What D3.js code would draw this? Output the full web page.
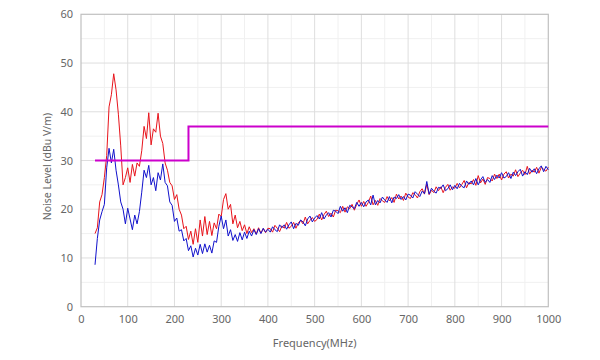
<!DOCTYPE html>
<html><head><meta charset="utf-8">
<script src="https://cdn.jsdelivr.net/npm/d3@7"></script>
<style>body{margin:0;background:#fff}svg{display:block}text{font-family:"Noto Sans",sans-serif}</style>
</head><body>
<svg id="c" width="600" height="360"></svg>
<script>
// Frequencies: 30 MHz to 1000 MHz every 5 MHz
const freqStart = 30, freqStep = 5;
const redLevel = [
15.0,16.2,21.5,23.0,26.5,31.0,41.0,43.5,47.8,44.5,39.5,33.0,25.0,26.5,28.5,25.5,29.2,26.8,29.5,28.8,
32.0,37.0,34.5,39.8,33.2,36.5,35.8,39.7,35.0,33.5,29.5,28.0,25.5,24.8,22.0,23.0,20.0,18.8,16.0,16.5,
13.8,15.5,12.8,16.0,13.2,17.8,14.5,18.5,14.8,17.5,14.6,17.2,16.0,19.0,18.5,22.0,23.2,20.0,21.0,17.0,
18.8,16.2,17.5,15.6,16.8,15.0,16.4,15.2,16.0,14.9,16.2,15.1,16.0,15.2,16.1,
16.0,15.3,16.7,16.1,15.4,16.6,16.1,17.3,16.1,16.5,17.3,16.1,17.2,17.7,17.0,18.4,17.0,17.7,18.3,17.5,
17.9,19.0,17.8,18.9,19.6,18.5,19.2,18.4,19.8,19.7,19.3,20.6,19.4,20.5,20.1,21.0,19.8,21.0,21.9,20.6,
21.6,20.6,21.4,22.7,20.9,21.8,20.8,22.2,21.7,21.4,22.6,21.7,22.4,21.4,23.1,22.1,22.7,21.8,23.3,22.5,
22.2,23.4,23.0,22.3,23.6,24.2,23.1,25.1,23.0,23.9,23.4,24.6,23.8,24.6,23.4,24.5,25.1,23.9,24.6,24.3,
25.3,24.4,25.1,25.9,24.4,25.5,25.2,26.1,24.9,26.9,25.4,26.2,25.1,26.5,26.3,25.8,27.2,26.3,27.2,26.0,
27.2,27.7,26.4,27.2,26.8,28.1,26.7,27.4,28.0,27.1,28.8,27.2,28.0,27.6,28.6,27.4,28.6,28.2,27.8,28.6];
const blueLevel = [
8.6,14.0,17.8,19.5,21.0,28.5,32.5,29.5,32.3,28.0,25.0,21.5,20.0,17.0,20.2,18.0,15.8,18.8,17.0,19.5,
23.5,28.0,26.5,29.0,25.0,26.5,23.8,27.5,26.0,29.3,25.5,24.8,21.5,20.8,17.5,18.2,15.5,15.8,13.5,14.0,
11.5,12.5,10.2,12.0,10.6,12.8,10.9,12.9,11.2,12.6,11.0,13.5,13.2,16.5,18.6,16.0,17.8,14.5,15.8,13.6,
14.8,13.4,15.2,13.7,15.3,14.0,15.5,14.5,15.8,14.8,16.0,15.0,16.1,15.3,15.9,
15.3,16.4,15.8,15.4,16.8,16.2,16.8,15.9,16.8,17.4,16.0,17.1,16.7,17.8,17.4,16.6,18.0,18.6,17.4,18.2,
18.7,18.0,19.3,18.0,18.8,19.3,18.4,19.8,19.6,19.1,20.6,19.6,20.3,19.3,20.8,20.5,20.1,21.4,20.6,21.4,
20.5,21.5,21.9,20.9,22.9,20.9,21.8,21.3,22.5,21.9,21.4,22.6,21.3,22.5,22.2,23.0,22.0,22.6,21.9,23.1,
22.9,22.3,23.6,23.1,22.6,23.7,23.2,25.7,23.1,24.3,23.7,23.3,24.5,24.3,25.0,23.8,24.2,25.0,24.0,24.9,
24.2,25.3,24.7,24.4,25.8,25.1,25.8,25.0,26.3,25.0,26.0,26.7,25.5,26.1,25.5,26.9,26.1,27.0,26.4,27.5,
26.4,26.7,27.5,26.3,27.6,26.9,27.7,28.2,26.8,27.7,27.1,28.4,27.6,28.3,27.3,28.3,28.9,27.7,28.8,28.1];
const limitFreq = [30, 230, 230, 1000];
const limitLevel = [30, 30, 37, 37];
const xTicks = [0,100,200,300,400,500,600,700,800,900,1000];
const yTicks = [0,10,20,30,40,50,60];
const xMinor = [50,150,250,350,450,550,650,750,850,950];
const yMinor = [5,15,25,35,45,55];

const svg = d3.select("#c");
const L = 81, R = 548.3, T = 14.3, B = 306.7;
const x = d3.scaleLinear().domain([0, 1000]).range([L, R]);
const y = d3.scaleLinear().domain([0, 60]).range([B, T]);
const freqs = redLevel.map((_, i) => freqStart + i * freqStep);

const g = svg.append("g");
g.selectAll(".xm").data(xMinor).join("line").attr("x1", d => x(d)).attr("x2", d => x(d)).attr("y1", T).attr("y2", B).attr("stroke", "#f0f0f0");
g.selectAll(".ym").data(yMinor).join("line").attr("y1", d => y(d)).attr("y2", d => y(d)).attr("x1", L).attr("x2", R).attr("stroke", "#f0f0f0");
g.selectAll(".xg").data(xTicks.slice(1, -1)).join("line").attr("x1", d => x(d)).attr("x2", d => x(d)).attr("y1", T).attr("y2", B).attr("stroke", "#dedede");
g.selectAll(".yg").data(yTicks.slice(1, -1)).join("line").attr("y1", d => y(d)).attr("y2", d => y(d)).attr("x1", L).attr("x2", R).attr("stroke", "#dedede");
svg.append("rect").attr("x", L).attr("y", T).attr("width", R - L).attr("height", B - T).attr("fill", "none").attr("stroke", "#c0c0c0").attr("stroke-width", 1.2);

const xAxis = svg.append("g").attr("transform", `translate(0,${B})`).call(d3.axisBottom(x).tickValues(xTicks).tickFormat(d3.format("d")).tickSize(0).tickPadding(9));
const yAxis = svg.append("g").attr("transform", `translate(${L},0)`).call(d3.axisLeft(y).tickValues(yTicks).tickFormat(d3.format("d")).tickSize(0).tickPadding(8));
[xAxis, yAxis].forEach(a => { a.select(".domain").remove(); a.selectAll("text").attr("fill", "#666").style("font-size", "11px").style("font-family", '"Noto Sans",sans-serif'); });

const line = d3.line().x(d => x(d[0])).y(d => y(d[1]));
svg.append("path").datum(freqs.map((f, i) => [f, redLevel[i]])).attr("d", line).attr("fill", "none").attr("stroke", "#e8141c").attr("stroke-width", 1).attr("stroke-linejoin", "round");
svg.append("path").datum(freqs.map((f, i) => [f, blueLevel[i]])).attr("d", line).attr("fill", "none").attr("stroke", "#1111cc").attr("stroke-width", 1).attr("stroke-linejoin", "round");
svg.append("path").datum(limitFreq.map((f, i) => [f, limitLevel[i]])).attr("d", line).attr("fill", "none").attr("stroke", "#cc00cc").attr("stroke-width", 2);

svg.append("text").attr("x", (L + R) / 2).attr("y", 347).attr("text-anchor", "middle").attr("fill", "#666").style("font-size", "11px").text("Frequency(MHz)");
svg.append("text").attr("transform", `translate(51,${(T + B) / 2 + 6}) rotate(-90)`).attr("text-anchor", "middle").attr("fill", "#666").style("font-size", "10.5px").text("Noise Level (dBu V/m)");
</script>
</body></html>
